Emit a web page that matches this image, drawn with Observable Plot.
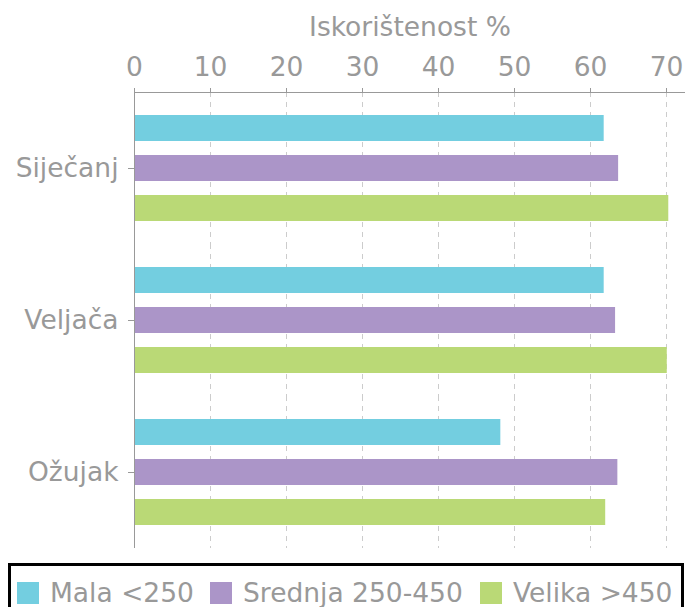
<!DOCTYPE html>
<html>
<head>
<meta charset="utf-8">
<script src="https://cdn.jsdelivr.net/npm/d3@7"></script>
<script src="https://cdn.jsdelivr.net/npm/@observablehq/plot@0.6"></script>
<style>
  body { margin: 0; background: white; font-family: "DejaVu Sans", sans-serif; }
  #chart svg { display: block; }
  .legend { position: absolute; left: 8px; top: 563px; width: 676px; height: 60px; border: 3px solid #000; box-sizing: border-box; font-family: "DejaVu Sans", sans-serif; font-size: 26.5px; color: #999; }
  .legend .item { position: absolute; top: 11px; display: flex; align-items: center; white-space: nowrap; }
  .legend .sw { width: 22px; height: 22px; margin-right: 11px; }
</style>
</head>
<body>
<div id="chart"></div>
<div class="legend" id="legend"></div>
<script>
const months = ["Siječanj", "Veljača", "Ožujak"];
const series = ["Mala <250", "Srednja 250-450", "Velika >450"];
const mala = [61.8, 61.8, 48.2];
const srednja = [63.7, 63.3, 63.6];
const velika = [70.3, 70.1, 62.0];
const xTicks = [0, 10, 20, 30, 40, 50, 60, 70];
const colors = ["#73CEE0", "#AB95C8", "#BAD976"];
const axisTitle = "Iskorištenost %";

const valuesBySeries = [mala, srednja, velika];
const data = months.flatMap((m, i) => series.map((s, j) => ({month: m, series: s, value: valuesBySeries[j][i]})));

const chart = Plot.plot({
  width: 685,
  height: 553,
  marginTop: 91,
  marginLeft: 134,
  marginRight: 0,
  marginBottom: 5,
  style: {fontFamily: "DejaVu Sans", fontSize: "26.5px", color: "#999", background: "white"},
  x: {domain: [0, 72.5]},
  y: {domain: series, paddingInner: 0.36, paddingOuter: 0.556, axis: null},
  fy: {domain: months, padding: 0},
  color: {domain: series, range: colors},
  marks: [
    Plot.ruleX(xTicks, {stroke: "#ccc", strokeDasharray: "5,5"}),
    Plot.barX(data, {x: "value", y: "series", fy: "month", fill: "series"}),
    Plot.ruleX([0], {stroke: "#999"}),
    Plot.frame({anchor: "top", facetAnchor: "top", stroke: "#999"}),
    Plot.axisX({anchor: "top", ticks: xTicks, tickSize: 5, tickPadding: 12, label: axisTitle, labelAnchor: "center", labelOffset: 75, labelArrow: "none"}),
    Plot.axisFy({anchor: "left", tickSize: 6, tickPadding: 10, label: null})
  ]
});
document.getElementById("chart").appendChild(chart);

const legend = document.getElementById("legend");
const lefts = [6, 199, 469];
series.forEach((s, j) => {
  const item = document.createElement("div");
  item.className = "item";
  item.style.left = lefts[j] + "px";
  const sw = document.createElement("div");
  sw.className = "sw";
  sw.style.background = colors[j];
  const t = document.createElement("span");
  t.textContent = s;
  item.appendChild(sw);
  item.appendChild(t);
  legend.appendChild(item);
});
</script>
</body>
</html>
